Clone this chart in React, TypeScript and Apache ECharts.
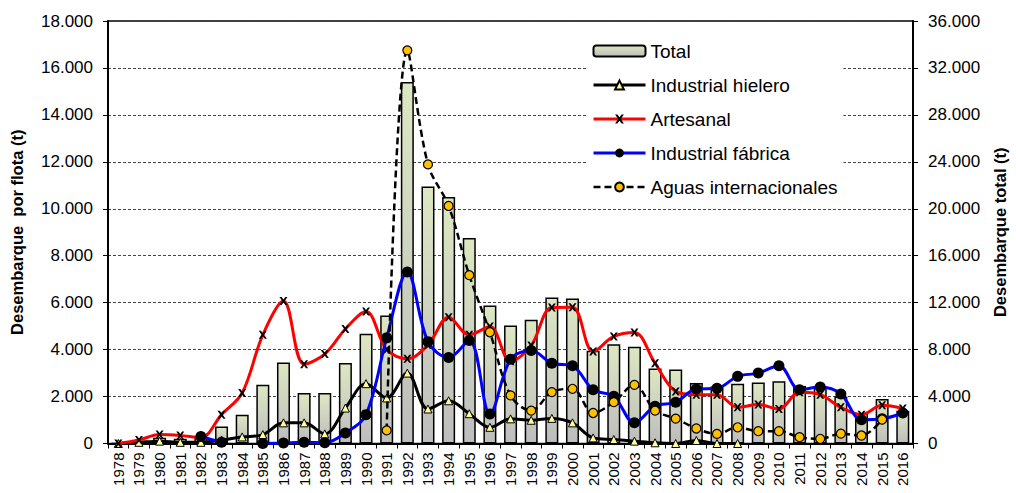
import { useEffect, useRef } from "react";
import * as echarts from "echarts";

const years = [
  "1978","1979","1980","1981","1982","1983","1984","1985","1986","1987","1988","1989","1990",
  "1991","1992","1993","1994","1995","1996","1997","1998","1999","2000","2001","2002","2003",
  "2004","2005","2006","2007","2008","2009","2010","2011","2012","2013","2014","2015","2016",
];

const total = [
  0, 200, 500, 400, 600, 1450, 2450, 5000, 6900, 4300, 4300, 6850, 9350,
  10900, 30800, 21900, 21000, 17500, 11750, 10050, 10550, 12450, 12350, 7900, 8450, 8250,
  6400, 6300, 5150, 4850, 5100, 5200, 5300, 4900, 4800, 4000, 2550, 3800, 2800,
];

const hielero = [
  0, 50, 100, 50, 50, 150, 280, 380, 880, 880, 410, 1510, 2550,
  1940, 3000, 1470, 1820, 1270, 690, 1050, 990, 1070, 880, 240, 170, 100,
  30, 0, 130, 0, 0, null, null, null, null, null, null, null, null,
];

const artesanal = [
  0, 150, 380, 340, 250, 1230, 2150, 4630, 6070, 3380, 3810, 4880, 5620,
  4000, 3610, 4200, 5380, 4630, 4980, 3500, 4170, 5790, 5800, 3920, 4560, 4730,
  3420, 2220, 2080, 2080, 1540, 1660, 1470, 2180, 2080, 1540, 1230, 1630, 1490,
];

const fabrica = [
  null, null, null, null, 300, 50, null, 0, 20, 50, 30, 450, 1230,
  4500, 7310, 4340, 3660, 4390, 1260, 3590, 3960, 3420, 3310, 2290, 2010, 880,
  1590, 1760, 2320, 2350, 2860, 3000, 3310, 2290, 2405, 2110, 1010, 1050, 1300,
];

const aguas = [
  null, null, null, null, null, null, null, null, null, null, null, null, null,
  560, 16750, 11890, 10120, 7170, 4740, 2050, 1400, 2190, 2330, 1300, 1760, 2500,
  1400, 1060, 640, 410, 690, 524, 524, 270, 200, 420, 340, 1020, null,
];

const legendNames = ["Total", "Industrial hielero", "Artesanal", "Industrial fábrica", "Aguas internacionales"];

const fmt = (v: number) => String(v).replace(/\B(?=(\d{3})+(?!\d))/g, ".");

const FONT = "Liberation Sans, Arial, sans-serif";
const xMark = "path://M0,0L2.6,0L5,3.1L7.4,0L10,0L6.5,5L10,10L7.4,10L5,6.9L2.6,10L0,10L3.5,5Z";

export default function App() {
  const ref = useRef<HTMLDivElement>(null);
  useEffect(() => {
    if (!ref.current) return;
    const chart = echarts.init(ref.current, undefined, { renderer: "svg" });
    chart.setOption({
      animation: false,
      backgroundColor: "#ffffff",
      textStyle: { fontFamily: FONT },
      grid: {
        left: 107,
        right: 95,
        top: 21,
        bottom: 49.5,
        show: true,
        borderColor: "#000",
        borderWidth: 1.5,
        backgroundColor: "transparent",
      },
      legend: {
        orient: "vertical",
        left: 586,
        top: 37,
        z: 10,
        backgroundColor: "#ffffff",
        padding: [4, 6, 4, 6],
        itemWidth: 52,
        itemHeight: 11,
        itemGap: 14,
        textStyle: { fontFamily: FONT, fontSize: 19, color: "#000", lineHeight: 20 },
        data: [
          { name: legendNames[0] },
          { name: legendNames[1], lineStyle: { width: 3 } },
          { name: legendNames[2], lineStyle: { width: 3 } },
          { name: legendNames[3], lineStyle: { width: 3 } },
          { name: legendNames[4], lineStyle: { width: 2.5 } },
        ],
      },
      xAxis: {
        type: "category",
        data: years,
        axisLine: { lineStyle: { color: "#000", width: 2 } },
        axisTick: { show: true, length: 5, lineStyle: { color: "#000", width: 1 } },
        axisLabel: { rotate: 90, fontSize: 15, color: "#000", fontFamily: FONT, margin: 9 },
        splitLine: { show: false },
      },
      yAxis: [
        {
          type: "value",
          min: 0,
          max: 18000,
          interval: 2000,
          name: "Desembarque  por flota (t)",
          nameLocation: "middle",
          nameRotate: 90,
          nameGap: 83,
          nameTextStyle: { fontFamily: FONT, fontSize: 16.5, fontWeight: "bold", color: "#000" },
          axisLine: { show: true, lineStyle: { color: "#000", width: 2 } },
          axisTick: { show: true, length: 5, lineStyle: { color: "#000" } },
          axisLabel: { formatter: fmt, fontSize: 17, color: "#000", fontFamily: FONT, margin: 15 },
          splitLine: { show: true, lineStyle: { color: "#444", type: [3, 2], width: 1 } },
        },
        {
          type: "value",
          min: 0,
          max: 36000,
          interval: 4000,
          position: "right",
          name: "Desembarque total (t)",
          nameLocation: "middle",
          nameRotate: 90,
          nameGap: 76,
          nameTextStyle: { fontFamily: FONT, fontSize: 16.5, fontWeight: "bold", color: "#000" },
          axisLine: { show: true, lineStyle: { color: "#000", width: 2 } },
          axisTick: { show: true, length: 5, lineStyle: { color: "#000" } },
          axisLabel: { formatter: fmt, fontSize: 17, color: "#000", fontFamily: FONT, margin: 15 },
          splitLine: { show: false },
        },
      ],
      series: [
        {
          name: "Total",
          type: "bar",
          yAxisIndex: 1,
          data: total,
          barWidth: 13,
          z: 1,
          itemStyle: {
            color: new echarts.graphic.LinearGradient(0, 0, 0, 1, [
              { offset: 0, color: "#dde7c2" },
              { offset: 1, color: "#bdbdbd" },
            ]),
            borderColor: "#000",
            borderWidth: 1.5,
          },
        },
        {
          name: "Industrial hielero",
          type: "line",
          data: hielero,
          smooth: 0.35,
          symbol: "triangle",
          symbolSize: 8,
          showAllSymbol: true,
          z: 3,
          lineStyle: { color: "#000", width: 3 },
          itemStyle: { color: "#ffff99", borderColor: "#000", borderWidth: 1 },
        },
        {
          name: "Artesanal",
          type: "line",
          data: artesanal,
          smooth: 0.35,
          symbol: xMark,
          symbolSize: 8,
          showAllSymbol: true,
          z: 4,
          lineStyle: { color: "#ff0000", width: 3 },
          itemStyle: { color: "#000", borderWidth: 0 },
        },
        {
          name: "Industrial fábrica",
          type: "line",
          data: fabrica,
          smooth: 0.35,
          symbol: "circle",
          symbolSize: 11,
          showAllSymbol: true,
          z: 5,
          lineStyle: { color: "#0000ff", width: 3 },
          itemStyle: { color: "#000", borderColor: "#000", borderWidth: 0 },
        },
        {
          name: "Aguas internacionales",
          type: "line",
          data: aguas,
          smooth: 0.35,
          symbol: "circle",
          symbolSize: 9,
          showAllSymbol: true,
          z: 6,
          lineStyle: { color: "#000", width: 2.5, type: [7, 4] },
          itemStyle: { color: "#ffc000", borderColor: "#000", borderWidth: 1.2 },
        },
      ],
    });
    return () => chart.dispose();
  }, []);
  return (
    <div
      ref={ref}
      style={{ position: "fixed", left: 0, top: 0, width: 1016, height: 493, background: "#fff" }}
    />
  );
}
